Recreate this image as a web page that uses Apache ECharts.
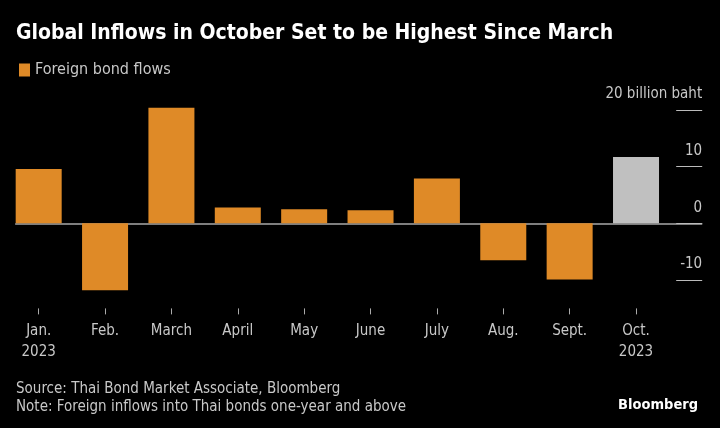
<!DOCTYPE html>
<html>
<head>
<meta charset="utf-8">
<script src="https://cdn.jsdelivr.net/npm/echarts@6/dist/echarts.min.js"></script>
<style>
html,body{margin:0;padding:0;background:#000;}
#c{width:720px;height:428px;}
</style>
</head>
<body>
<div id="c"></div>
<script>
const categories = ["Jan.\n2023","Feb.","March","April","May","June","July","Aug.","Sept.","Oct.\n2023"];
const flows = [9.6, -11.8, 20.4, 2.8, 2.5, 2.3, 7.9, -6.5, -9.9, 11.7];
const yTicks = [-10, 0, 10, 20];
const seriesName = "Foreign bond flows";
const unitLabel = "billion baht";
const highlightIndex = 9;

const ORANGE = "#DF8A27";
const GRAY = "#C0C0C0";
const FONT = "DejaVu Sans Condensed";

const chart = echarts.init(document.getElementById('c'), null, {renderer:'canvas'});
const data = flows.map((v,i)=> i===highlightIndex ? {value:v, itemStyle:{color:GRAY}} : v);

chart.setOption({
  backgroundColor:'#000',
  animation:false,
  title:[
    {text:"Global Inflows in October Set to be Highest Since March", left:11, top:18,
     textStyle:{color:'#fff', fontSize:21, fontWeight:'bold', fontFamily:FONT}},
    {text:"Source: Thai Bond Market Associate, Bloomberg\nNote: Foreign inflows into Thai bonds one-year and above",
     left:11, top:375, textStyle:{color:'#c8c8c8', fontSize:15, fontWeight:'normal', lineHeight:18, fontFamily:FONT}},
    {text:"Bloomberg", right:17, top:393, textStyle:{color:'#fff', fontSize:14.5, fontWeight:'bold', fontFamily:FONT}}
  ],
  legend:{left:14, top:57, icon:'rect', itemWidth:11, itemHeight:13, itemGap:6,
    textStyle:{color:'#c8c8c8', fontSize:16, fontFamily:FONT}, data:[seriesName]},
  grid:[
    {left:5.5, right:50.8, top:98.6, bottom:119.6},
    {left:15.7, right:18.3, top:98.6, bottom:119.6}
  ],
  xAxis:[
    {type:'category', gridIndex:0, data:categories,
     axisLine:{show:false, onZero:false},
     axisTick:{show:true, alignWithLabel:true, length:6, lineStyle:{color:'#aaa'}},
     axisLabel:{color:'#c8c8c8', fontSize:15, lineHeight:21, margin:12, fontFamily:FONT, interval:0},
     splitLine:{show:false}},
    {type:'value', gridIndex:1, min:0, max:1, show:true,
     axisLine:{show:true, onZero:true, lineStyle:{color:'#a8a8a8', width:1.5}},
     axisTick:{show:false}, axisLabel:{show:false}, splitLine:{show:false}}
  ],
  yAxis:[
    {type:'value', gridIndex:0, position:'right', min:-15, max:22, offset:7,
     axisLine:{show:false},
     axisTick:{show:true, length:26, customValues:yTicks, lineStyle:{color:'#bbb', width:1}},
     axisLabel:{show:true, customValues:yTicks, inside:false, margin:26, align:'right',
       verticalAlign:'bottom', lineHeight:31, color:'#c8c8c8', fontSize:15, fontFamily:FONT,
       formatter:(v)=> v===20 ? v+" "+unitLabel : String(v)},
     splitLine:{show:false}},
    {type:'value', gridIndex:1, min:-15, max:22, show:false}
  ],
  series:[
    {name:seriesName, type:'bar', xAxisIndex:0, yAxisIndex:0, data:data, barWidth:46,
     itemStyle:{color:ORANGE}, z:2}
  ]
});
</script>
</body>
</html>
